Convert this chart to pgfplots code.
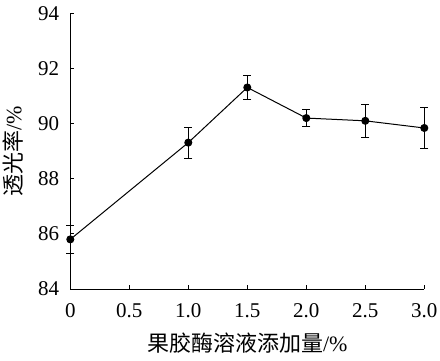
\documentclass[border=0pt]{standalone}
\usepackage{pgfplots}
\pgfplotsset{compat=1.18}
\usepackage{fontspec}
\setmainfont{Liberation Serif}
\newfontfamily\cjk{Noto Sans CJK SC}
\begin{document}
\begin{tikzpicture}[font=\fontsize{21}{25}\selectfont]
\useasboundingbox (-70.3pt,-71pt) rectangle (369.7pt,289pt);
\begin{axis}[
  at={(0,0)}, anchor=south west,
  scale only axis, width=354pt, height=275.7pt,
  xmin=0, xmax=3, ymin=84, ymax=94,
  axis x line*=bottom, axis y line*=left,
  axis line style={line width=1pt},
  tick align=inside, major tick length=4pt,
  every tick/.style={line width=1pt, black},
  xtick={0,0.5,1,1.5,2,2.5,3},
  xticklabels={0,0.5,1.0,1.5,2.0,2.5,3.0},
  ytick={84,86,88,90,92,94},
  yticklabels={84,86,88,90,92,94},
  /pgf/number format/assume math mode=true,
  yticklabel style={anchor=east, inner sep=0pt, xshift=-11pt},
  xticklabel style={anchor=north, inner sep=0pt, yshift=-14pt},
  xlabel={{\cjk 果胶酶溶液添加量}/\%},
  ylabel={{\cjk 透光率}/\%},
  label style={font=\fontsize{22}{26}\selectfont},
  xlabel style={at={(axis description cs:0.5,-0.196)}, anchor=center},
  ylabel style={at={(axis description cs:-0.162,0.5)}, anchor=center, rotate=0},
  clip=false,
]
\addplot[black, line width=1pt, mark=*, mark size=3.5pt, mark options={fill=black},
  error bars/.cd, y dir=both, y explicit,
  error bar style={line width=1pt},
  error mark options={rotate=90, mark size=4pt, line width=1pt}]
  coordinates {
  (0,85.80) +- (0,0.50)
  (1.0,89.31) +- (0,0.56)
  (1.5,91.31) +- (0,0.43)
  (2.0,90.20) +- (0,0.30)
  (2.5,90.10) +- (0,0.60)
  (3.0,89.84) +- (0,0.74)
  };
\end{axis}
\end{tikzpicture}
\end{document}
